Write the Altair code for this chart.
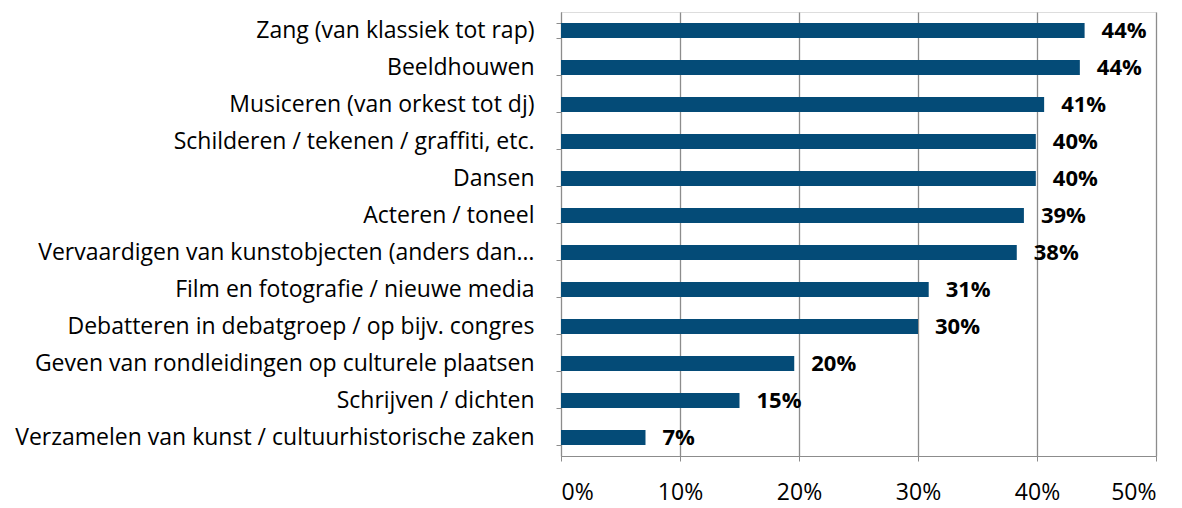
import altair as alt
import pandas as pd

categories = [
    "Zang (van klassiek tot rap)",
    "Beeldhouwen",
    "Musiceren (van orkest tot dj)",
    "Schilderen / tekenen / graffiti, etc.",
    "Dansen",
    "Acteren / toneel",
    "Vervaardigen van kunstobjecten (anders dan…",
    "Film en fotografie / nieuwe media",
    "Debatteren in debatgroep / op bijv. congres",
    "Geven van rondleidingen op culturele plaatsen",
    "Schrijven / dichten",
    "Verzamelen van kunst / cultuurhistorische zaken",
]
values = [0.440, 0.436, 0.406, 0.399, 0.399, 0.389, 0.383, 0.309, 0.300, 0.196, 0.150, 0.071]

df = pd.DataFrame({"cat": categories, "val": values})

FONT = "Open Sans"
GRID = "#8c8c8c"

y_enc = alt.Y(
    "cat:N",
    sort=categories,
    title=None,
    scale=alt.Scale(paddingInner=0.6, paddingOuter=0.3),
    axis=alt.Axis(
        labelFont=FONT, labelFontSize=23, labelColor="#000000",
        labelPadding=22, labelLimit=800,
        tickBand="extent", tickColor=GRID, tickSize=5,
        domainColor=GRID, domainWidth=1,
    ),
)
x_enc = alt.X(
    "val:Q",
    title=None,
    scale=alt.Scale(domain=[0, 0.5], nice=False),
    axis=alt.Axis(
        format=".0%", values=[0, 0.1, 0.2, 0.3, 0.4, 0.5],
        labelFont=FONT, labelFontSize=23, labelColor="#000000",
        labelPadding=20, tickColor=GRID, tickSize=5,
        domainColor=GRID, gridColor=GRID, gridWidth=1.3, grid=True,
    ),
)

bars = alt.Chart(df).mark_bar(color="#044B77").encode(y=y_enc, x=x_enc)
labels = alt.Chart(df).mark_text(
    align="left", baseline="middle", dx=17, font=FONT, fontSize=22,
    fontWeight="bold", color="#000000"
).encode(
    y=alt.Y("cat:N", sort=categories),
    x=alt.X("val:Q"),
    text=alt.Text("val:Q", format=".0%"),
)

chart = (bars + labels).properties(
    width=595, height=444,
    autosize=alt.AutoSizeParams(type="none"),
    padding={"left": 553, "top": 4, "right": 18, "bottom": 54},
).configure_view(stroke=None).configure(background="#ffffff")

chart.save("out.html", embed_options={"renderer": "svg", "actions": False})
